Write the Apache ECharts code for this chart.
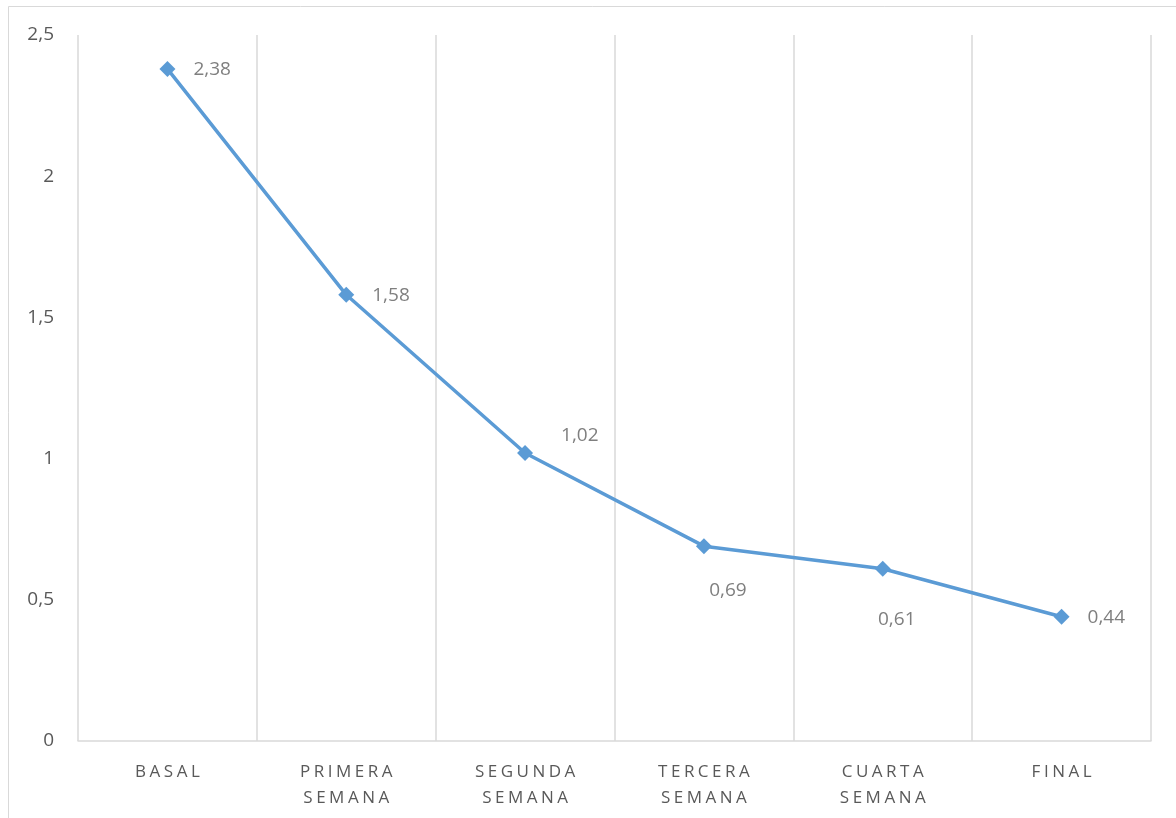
<!DOCTYPE html>
<html>
<head>
<meta charset="utf-8">
<script src="https://cdn.jsdelivr.net/npm/echarts@6/dist/echarts.min.js"></script>
<style>
html,body{margin:0;padding:0;background:#fff;}
#chart{width:1176px;height:818px;}
</style>
</head>
<body>
<div id="chart"></div>
<script>
const categories = ['BASAL', 'PRIMERA\nSEMANA', 'SEGUNDA\nSEMANA', 'TERCERA\nSEMANA', 'CUARTA\nSEMANA', 'FINAL'];
const values = [2.38, 1.58, 1.02, 0.69, 0.61, 0.44];
const yTicks = [0, 0.5, 1, 1.5, 2, 2.5];

const labelPlacement = [
  {position: 'right', distance: 18, offset: [0, 1]},
  {position: 'right', distance: 18, offset: [0, 1]},
  {position: 'right', distance: 28, offset: [0, -17]},
  {position: 'bottom', distance: 27, offset: [24, 0]},
  {position: 'bottom', distance: 33, offset: [14, 0]},
  {position: 'right', distance: 18, offset: [0, 1]}
];

const fmt = v => String(v).replace('.', ',');

// letter-spaced category labels (canvas letterSpacing, only for these words)
const spacedWords = new Set();
categories.forEach(c => c.split('\n').forEach(w => spacedWords.add(w)));
(function () {
  const proto = CanvasRenderingContext2D.prototype;
  const orig = proto.fillText;
  proto.fillText = function (text, x, y, maxW) {
    if (spacedWords.has(text) && 'letterSpacing' in this) {
      this.save();
      this.letterSpacing = '3.5px';
      const r = maxW === undefined ? orig.call(this, text, x + 1.75, y) : orig.call(this, text, x + 1.75, y, maxW);
      this.restore();
      return r;
    }
    return maxW === undefined ? orig.call(this, text, x, y) : orig.call(this, text, x, y, maxW);
  };
})();

const chart = echarts.init(document.getElementById('chart'), null, {renderer: 'canvas'});
chart.setOption({
  backgroundColor: '#fff',
  animation: false,
  graphic: [{
    type: 'rect',
    shape: {x: 8.5, y: 6.5, width: 1200, height: 900},
    style: {fill: 'none', stroke: '#d9d9d9', lineWidth: 1},
    silent: true, z: -1
  }],
  grid: {left: 78, right: 25, top: 35, bottom: 77, containLabel: false},
  xAxis: {
    type: 'category',
    data: categories,
    boundaryGap: true,
    axisLine: {show: true, lineStyle: {color: '#d9d9d9', width: 1.5}},
    axisTick: {show: false},
    splitLine: {show: true, interval: 0, lineStyle: {color: '#d9d9d9', width: 1.5}},
    axisLabel: {
      interval: 0, margin: 18, color: '#595959',
      fontFamily: 'Open Sans', fontSize: 17, lineHeight: 26
    }
  },
  yAxis: {
    type: 'value',
    min: 0, max: 2.5, interval: 0.5,
    axisLine: {show: false},
    axisTick: {show: false},
    splitLine: {show: false},
    axisLabel: {
      margin: 24, color: '#595959', fontFamily: 'Open Sans', fontSize: 19,
      formatter: v => fmt(v)
    }
  },
  series: [{
    type: 'line',
    data: values.map((v, i) => ({
      value: v,
      label: Object.assign({show: true}, labelPlacement[i])
    })),
    symbol: 'diamond',
    symbolSize: 16,
    itemStyle: {color: '#5B9BD5'},
    lineStyle: {color: '#5B9BD5', width: 3.5},
    label: {
      show: true, color: '#7f7f7f', fontFamily: 'Open Sans', fontSize: 19,
      formatter: p => fmt(p.value)
    }
  }]
});
</script>
</body>
</html>
